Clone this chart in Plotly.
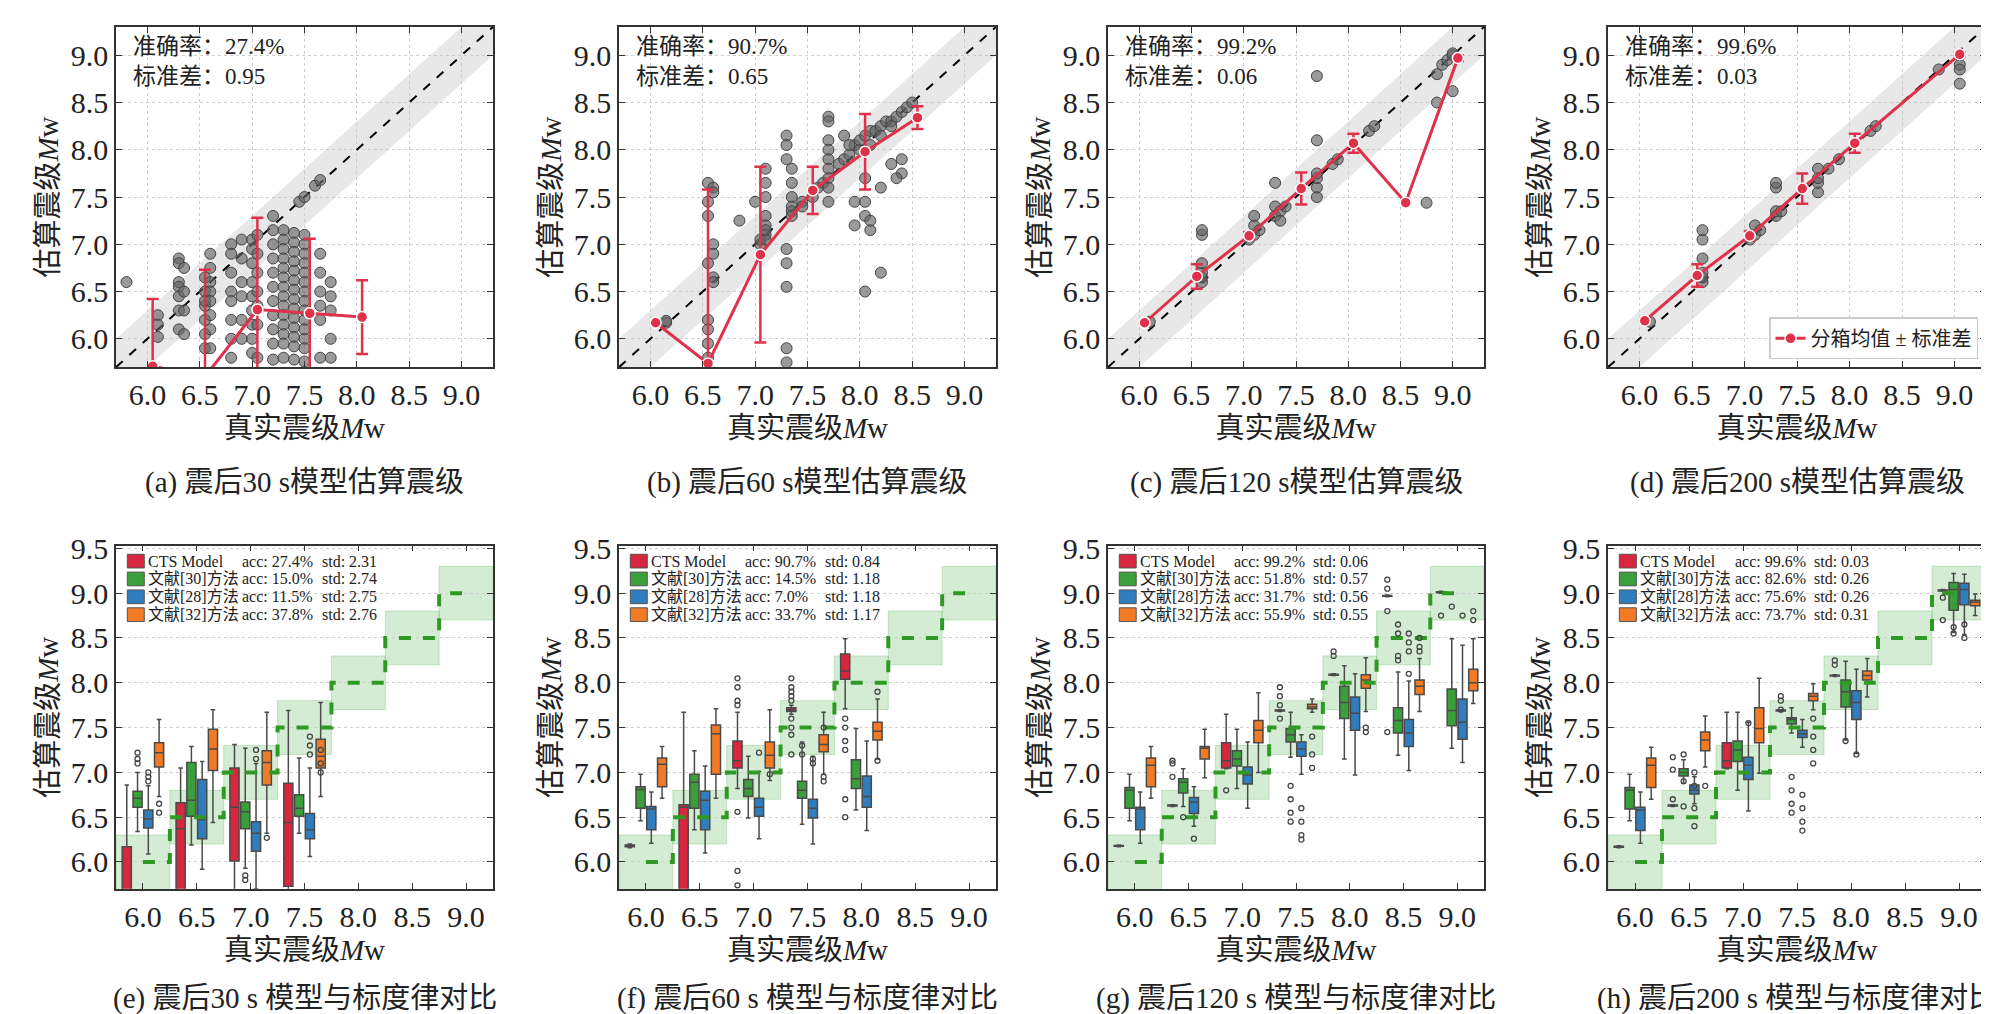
import plotly.graph_objects as go

W, H = 1989, 1014
FONT = "Liberation Serif, Noto Sans CJK SC"

# ---------- 上排：散点 + 分箱均值 ----------
a_x = [5.8, 6.1, 6.1, 6.1, 6.3, 6.3, 6.3, 6.3, 6.3, 6.3, 6.3, 6.35, 6.35, 6.35, 6.35,
       6.55, 6.55, 6.55, 6.55, 6.55, 6.55, 6.55, 6.6, 6.6, 6.6, 6.6, 6.6, 6.6, 6.6, 6.6,
       6.8, 6.8, 6.8, 6.8, 6.8, 6.8, 6.8, 6.8, 6.9, 6.9, 6.9, 6.9, 6.9, 6.9,
       7.0, 7.0, 7.0, 7.0, 7.0, 7.0, 7.0, 7.0, 7.0, 7.05, 7.05, 7.05, 7.05, 7.05, 7.05, 7.05,
       7.2, 7.2, 7.2, 7.2, 7.2, 7.2, 7.2, 7.2, 7.2, 7.2, 7.2,
       7.3, 7.3, 7.3, 7.3, 7.3, 7.3, 7.3, 7.3, 7.3, 7.3, 7.3, 7.3, 7.3, 7.3,
       7.4, 7.4, 7.4, 7.4, 7.4, 7.4, 7.4, 7.4, 7.4, 7.4, 7.4, 7.4, 7.4, 7.4,
       7.5, 7.5, 7.5, 7.5, 7.5, 7.5, 7.5, 7.5, 7.5, 7.5, 7.5, 7.5, 7.5, 7.5,
       7.45, 7.5, 7.6, 7.65, 7.65, 7.65, 7.65, 7.65, 7.65, 7.65,
       7.75, 7.75, 7.75, 7.75, 7.75]
a_y = [6.6, 6.25, 6.15, 6.02, 6.85, 6.8, 6.6, 6.55, 6.45, 6.3, 6.1, 6.75, 6.5, 6.3, 6.05,
       6.65, 6.5, 6.35, 6.2, 6.05, 5.9, 6.4, 6.9, 6.75, 6.6, 6.5, 6.4, 6.25, 6.1, 5.9,
       7.0, 6.9, 6.7, 6.5, 6.4, 6.2, 6.0, 5.8, 7.05, 6.85, 6.6, 6.45, 6.2, 6.0,
       7.05, 6.95, 6.8, 6.6, 6.45, 6.3, 6.15, 6.0, 5.85, 7.1, 6.9, 6.7, 6.5, 6.35, 6.15, 5.8,
       7.3, 7.15, 7.0, 6.85, 6.7, 6.55, 6.4, 6.25, 6.1, 5.95, 5.78,
       7.15, 7.05, 6.95, 6.85, 6.75, 6.65, 6.55, 6.45, 6.35, 6.25, 6.15, 6.05, 5.95, 5.8,
       7.12, 7.02, 6.92, 6.82, 6.72, 6.62, 6.52, 6.42, 6.32, 6.22, 6.12, 6.02, 5.92, 5.78,
       7.1, 7.0, 6.9, 6.8, 6.7, 6.6, 6.5, 6.4, 6.3, 6.2, 6.1, 6.0, 5.9, 5.76,
       7.45, 7.5, 7.62, 7.68, 6.9, 6.7, 6.5, 6.35, 6.2, 5.8,
       6.6, 6.45, 6.3, 6.0, 5.8]

b_x = [6.15, 6.15, 6.55, 6.55, 6.55, 6.55, 6.55, 6.55, 6.55, 6.55, 6.6, 6.6, 6.6, 6.6, 6.6, 6.6,
       6.85, 7.0, 7.05, 7.05, 7.1, 7.1, 7.1, 7.1, 7.1, 7.1, 7.1, 7.1,
       7.3, 7.3, 7.3, 7.3, 7.3, 7.3, 7.3, 7.3, 7.35, 7.35, 7.35, 7.35, 7.35, 7.35, 7.45, 7.45,
       7.55, 7.6, 7.65, 7.7, 7.7, 7.7, 7.7, 7.7, 7.7, 7.7, 7.7, 7.7,
       7.8, 7.85, 7.9, 7.95, 8.0, 8.0, 8.05, 8.1, 8.1, 8.15, 8.2, 8.2, 8.25, 8.3, 8.3, 8.35, 8.4, 8.45, 8.5,
       7.95, 7.95, 8.05, 8.05, 8.05, 8.05, 8.1, 8.1, 8.2, 8.2, 8.4, 8.4, 8.35, 8.3, 7.85, 7.9]
b_y = [6.17, 6.19, 7.65, 7.45, 7.3, 6.8, 6.2, 6.1, 5.95, 5.8, 7.6, 7.55, 7.0, 6.9, 6.65, 6.6,
       7.25, 7.45, 7.0, 7.05, 7.8, 7.65, 7.5, 7.3, 7.2, 7.1, 7.05, 7.15,
       8.15, 8.05, 7.9, 6.95, 6.8, 6.55, 5.9, 5.75, 7.8, 7.65, 7.5, 7.4, 7.35, 7.3, 7.45, 7.4,
       7.5, 7.6, 7.65, 8.35, 8.3, 8.1, 8.0, 7.9, 7.8, 7.7, 7.6, 7.45,
       7.85, 7.9, 7.95, 8.05, 8.0, 8.1, 8.15, 8.05, 8.2, 8.2, 8.25, 8.15, 8.3, 8.3, 8.25, 8.35, 8.4, 8.45, 8.5,
       7.45, 7.2, 7.3, 7.45, 7.7, 6.5, 7.15, 7.25, 6.7, 7.6, 7.75, 7.9, 7.7, 7.85, 8.15, 8.05]

c_x = [6.1, 6.6, 6.6, 6.6, 6.6, 6.6, 6.6, 7.05, 7.1, 7.1, 7.1, 7.15, 7.3, 7.3, 7.3, 7.35, 7.35,
       7.4, 7.7, 7.7, 7.7, 7.7, 7.7, 7.7, 7.85, 7.9, 8.2, 8.25, 8.75, 8.85, 8.85, 8.9, 8.95,
       9.0, 9.0, 9.0]
c_y = [6.18, 6.6, 6.65, 6.7, 6.8, 7.1, 7.15, 7.05, 7.1, 7.2, 7.3, 7.15, 7.3, 7.4, 7.65, 7.35, 7.25,
       7.4, 7.5, 7.6, 7.7, 7.75, 8.1, 8.78, 7.85, 7.9, 8.2, 8.25, 7.44, 8.8, 8.5, 8.9, 8.95,
       9.0, 8.62, 9.02]

d_x = [6.1, 6.6, 6.6, 6.6, 6.6, 6.6, 6.6, 7.05, 7.1, 7.1, 7.15, 7.3, 7.3, 7.3, 7.3, 7.35,
       7.7, 7.7, 7.7, 7.7, 7.8, 7.9, 8.2, 8.25, 8.85, 9.05, 9.05, 9.05, 9.05]
d_y = [6.18, 6.6, 6.65, 6.7, 6.85, 7.05, 7.15, 7.05, 7.1, 7.2, 7.15, 7.3, 7.35, 7.6, 7.65, 7.35,
       7.55, 7.65, 7.7, 7.8, 7.8, 7.9, 8.2, 8.25, 8.85, 9.0, 8.9, 8.85, 8.7]

# 分箱均值与标准差
a_bx, a_bm, a_bs = [6.05, 6.55, 7.05, 7.55, 8.05], [5.71, 5.6, 6.31, 6.27, 6.23], [0.71, 1.13, 0.97, 0.79, 0.39]
b_bx, b_bm, b_bs = [6.05, 6.55, 7.05, 7.55, 8.05, 8.55], [6.17, 5.74, 6.89, 7.57, 7.98, 8.34], [0.0, 1.84, 0.93, 0.25, 0.40, 0.12]
c_bx, c_bm, c_bs = [6.05, 6.55, 7.05, 7.55, 8.05, 8.55, 9.05], [6.17, 6.66, 7.09, 7.59, 8.07, 7.44, 8.97], [0.0, 0.13, 0.04, 0.17, 0.1, 0.0, 0.03]
d_bx, d_bm, d_bs = [6.05, 6.55, 7.05, 7.55, 8.05, 9.05], [6.19, 6.67, 7.09, 7.59, 8.07, 9.01], [0.0, 0.12, 0.05, 0.16, 0.1, 0.02]

top_acc = ["27.4%", "90.7%", "99.2%", "99.6%"]
top_std = ["0.95", "0.65", "0.06", "0.03"]
top_caps = ["(a) 震后30 s模型估算震级", "(b) 震后60 s模型估算震级",
            "(c) 震后120 s模型估算震级", "(d) 震后200 s模型估算震级"]

# ---------- 下排：箱线图 (lowerfence, q1, median, q3, upperfence) ----------
bin_centers = [6.0, 6.5, 7.0, 7.5, 8.0, 8.5, 9.0]
methods = ["CTS Model", "文献[30]方法", "文献[28]方法", "文献[32]方法"]
m_colors = ["#d7263d", "#3a9e3a", "#2f7dbd", "#f07a26"]

e_cts = [(5.0, 5.3, 5.6, 6.17, 6.86), (4.8, 5.4, 6.37, 6.66, 7.05), (5.5, 6.01, 6.61, 7.05, 7.31), (5.6, 5.73, 6.44, 6.88, 7.69), None, None, None]
e_l30 = [(6.34, 6.61, 6.71, 6.79, 7.0), (6.19, 6.51, 6.69, 7.11, 7.29), (5.93, 6.37, 6.56, 6.67, 7.27), (6.32, 6.51, 6.6, 6.75, 7.16), None, None, None]
e_l28 = [(6.09, 6.38, 6.48, 6.58, 6.85), (5.92, 6.26, 6.47, 6.92, 7.12), (5.7, 6.12, 6.32, 6.45, 7.1), (6.06, 6.26, 6.36, 6.54, 7.05), None, None, None]
e_l32 = [(6.73, 7.06, 7.22, 7.33, 7.59), (6.44, 7.02, 7.26, 7.48, 7.7), (6.32, 6.86, 7.11, 7.24, 7.67), (6.73, 7.05, 7.18, 7.37, 7.78), None, None, None]

f_cts = [(6.16, 6.17, 6.18, 6.19, 6.2), (4.8, 5.2, 6.61, 6.64, 7.67), (6.82, 7.05, 7.13, 7.35, 7.67), (7.65, 7.68, 7.7, 7.72, 7.75), (7.71, 8.04, 8.13, 8.32, 8.49), None, None]
f_l30 = [(6.46, 6.6, 6.81, 6.84, 6.98), (6.36, 6.6, 6.89, 6.98, 7.24), (6.49, 6.73, 6.82, 6.92, 7.18), (6.42, 6.71, 6.8, 6.9, 7.34), (6.58, 6.82, 6.93, 7.14, 7.49), None, None]
f_l28 = [(6.21, 6.36, 6.59, 6.62, 6.78), (6.1, 6.36, 6.69, 6.79, 7.07), (6.26, 6.51, 6.61, 6.71, 7.01), (6.2, 6.49, 6.6, 6.7, 7.18), (6.35, 6.61, 6.73, 6.96, 7.35), None, None]
f_l32 = [(6.71, 6.84, 7.09, 7.16, 7.29), (6.71, 6.98, 7.43, 7.53, 7.71), (6.91, 7.05, 7.19, 7.34, 7.7), (6.98, 7.23, 7.31, 7.42, 7.67), (7.15, 7.36, 7.46, 7.56, 7.82), None, None]

g_cts = [(6.17, 6.175, 6.18, 6.185, 6.19), (6.62, 6.625, 6.63, 6.635, 6.64), (7.04, 7.05, 7.13, 7.33, 7.65), (7.68, 7.685, 7.69, 7.695, 7.7), (8.08, 8.085, 8.09, 8.095, 8.1), (8.96, 8.965, 8.97, 8.975, 8.98), (9.0, 9.005, 9.01, 9.015, 9.02)]
g_l30 = [(6.46, 6.6, 6.8, 6.83, 6.98), (6.62, 6.77, 6.89, 6.93, 7.04), (6.82, 7.07, 7.15, 7.24, 7.48), (7.17, 7.34, 7.42, 7.49, 7.67), (7.15, 7.6, 7.78, 7.96, 8.19), (7.19, 7.44, 7.58, 7.72, 8.12), (7.27, 7.52, 7.69, 7.93, 8.49)]
g_l28 = [(6.21, 6.36, 6.59, 6.61, 6.78), (6.4, 6.54, 6.67, 6.72, 6.84), (6.6, 6.87, 6.97, 7.06, 7.34), (6.98, 7.18, 7.26, 7.34, 7.42), (6.97, 7.47, 7.66, 7.84, 8.1), (7.02, 7.29, 7.44, 7.59, 8.02), (7.11, 7.37, 7.56, 7.82, 8.42)]
g_l32 = [(6.71, 6.84, 7.08, 7.16, 7.29), (6.94, 7.15, 7.27, 7.29, 7.48), (7.0, 7.33, 7.47, 7.58, 7.89), (7.67, 7.71, 7.73, 7.76, 7.82), (7.68, 7.94, 8.03, 8.09, 8.28), (7.68, 7.87, 7.96, 8.03, 8.27), (7.77, 7.91, 8.0, 8.15, 8.49)]

h_cts = [(6.16, 6.165, 6.17, 6.175, 6.18), (6.62, 6.625, 6.63, 6.635, 6.64), (7.04, 7.05, 7.13, 7.33, 7.67), (7.68, 7.685, 7.69, 7.695, 7.7), (8.07, 8.075, 8.08, 8.085, 8.09), None, (9.02, 9.025, 9.03, 9.035, 9.04)]
h_l30 = [(6.46, 6.59, 6.8, 6.83, 6.98), (6.88, 6.96, 7.0, 7.04, 7.14), (6.8, 7.12, 7.25, 7.35, 7.67), (7.44, 7.54, 7.59, 7.61, 7.72), (7.36, 7.73, 7.9, 8.03, 8.24), None, (8.56, 8.81, 9.04, 9.12, 9.22)]
h_l28 = [(6.21, 6.35, 6.58, 6.61, 6.78), (6.65, 6.76, 6.8, 6.86, 6.95), (6.57, 6.92, 7.08, 7.17, 7.56), (7.28, 7.39, 7.43, 7.47, 7.59), (7.21, 7.59, 7.78, 7.91, 8.15), None, (8.54, 8.87, 9.04, 9.11, 9.21)]
h_l32 = [(6.7, 6.83, 7.08, 7.16, 7.28), (7.06, 7.24, 7.36, 7.45, 7.63), (6.99, 7.33, 7.49, 7.72, 8.05), (7.7, 7.8, 7.85, 7.88, 7.99), (7.84, 8.03, 8.08, 8.13, 8.27), None, (8.75, 8.86, 8.9, 8.92, 8.99)]

e_out_x = [5.95, 5.95, 5.95, 6.05, 6.05, 6.05, 6.15, 6.15, 7.05, 7.05, 6.95, 6.95, 7.15, 7.55, 7.55, 7.55, 7.65, 7.65, 7.65]
e_out_y = [7.22, 7.15, 7.1, 7.0, 6.95, 6.9, 6.65, 6.55, 7.25, 7.15, 5.85, 5.8, 6.27, 7.4, 7.3, 7.2, 7.25, 7.1, 7.0]
f_out_x = [6.85, 6.85, 6.85, 6.85, 6.85, 6.85, 6.85, 7.05, 7.15, 7.35, 7.35, 7.35, 7.35, 7.35, 7.35, 7.35, 7.35, 7.35,
           7.45, 7.45, 7.55, 7.55, 7.65, 7.65, 7.65, 7.85, 7.85, 7.85, 7.85, 7.85, 7.85, 8.15, 8.15]
f_out_y = [8.05, 7.95, 7.8, 7.75, 6.56, 5.9, 5.74, 7.22, 6.98, 8.05, 7.95, 7.9, 7.85, 7.8, 7.6, 7.5, 7.42, 7.2,
           7.3, 7.2, 7.15, 7.1, 7.5, 6.95, 6.9, 7.6, 7.5, 7.35, 7.25, 6.7, 6.5, 7.9, 7.13]
g_out_x = [6.35, 6.35, 6.35, 6.45, 6.55, 6.85, 7.35, 7.35, 7.35, 7.35, 7.45, 7.45, 7.45, 7.45, 7.55, 7.55, 7.55, 7.55,
           7.65, 7.65, 7.65, 7.85, 7.85, 8.15, 8.15, 8.35, 8.35, 8.35, 8.35, 8.45, 8.45, 8.45, 8.45, 8.55, 8.55, 8.55, 8.55,
           8.65, 8.65, 8.65, 8.85, 8.95, 9.05, 9.15, 9.15]
g_out_y = [7.13, 7.1, 6.95, 6.5, 6.26, 6.8, 7.95, 7.85, 7.75, 7.6, 6.85, 6.7, 6.55, 6.45, 6.6, 6.45, 6.3, 6.25,
           7.4, 7.2, 7.05, 8.35, 8.3, 7.5, 7.45, 9.15, 9.05, 8.8, 7.45, 8.65, 8.55, 8.3, 8.25, 8.55, 8.45, 8.35, 8.1,
           8.5, 8.4, 8.35, 8.75, 8.85, 8.75, 8.8, 8.7]
h_out_x = [6.35, 6.35, 6.35, 6.45, 6.45, 6.45, 6.55, 6.55, 6.55, 6.55, 6.65, 7.05, 7.35, 7.35, 7.35, 7.45, 7.45, 7.45, 7.45,
           7.55, 7.55, 7.55, 7.55, 7.65, 7.65, 7.65, 7.65, 7.85, 7.85, 7.95, 8.05, 8.85, 8.85, 8.95, 8.95, 9.05, 9.05]
h_out_y = [7.17, 7.03, 6.7, 7.2, 6.9, 6.62, 7.0, 6.85, 6.6, 6.4, 6.85, 7.55, 7.85, 7.8, 7.7, 6.95, 6.8, 6.65, 6.55,
           6.75, 6.6, 6.45, 6.35, 7.6, 7.4, 7.25, 7.1, 8.25, 8.2, 7.35, 7.2, 8.95, 8.7, 8.62, 8.55, 8.65, 8.5]

bot_stats = [
    ("acc: 27.4%", "acc: 15.0%", "acc: 11.5%", "acc: 37.8%"), ("std: 2.31", "std: 2.74", "std: 2.75", "std: 2.76"),
    ("acc: 90.7%", "acc: 14.5%", "acc: 7.0%", "acc: 33.7%"), ("std: 0.84", "std: 1.18", "std: 1.18", "std: 1.17"),
    ("acc: 99.2%", "acc: 51.8%", "acc: 31.7%", "acc: 55.9%"), ("std: 0.06", "std: 0.57", "std: 0.56", "std: 0.55"),
    ("acc: 99.6%", "acc: 82.6%", "acc: 75.6%", "acc: 73.7%"), ("std: 0.03", "std: 0.26", "std: 0.26", "std: 0.31"),
]
bot_caps = ["(e) 震后30 s 模型与标度律对比", "(f) 震后60 s 模型与标度律对比",
            "(g) 震后120 s 模型与标度律对比", "(h) 震后200 s 模型与标度律对比"]

# ---------- 布局 ----------
cols_px = [(108, 485), (611, 988), (1100, 1476), (1600, 1978)]
top_px = (5, 350)
bot_px = (531, 879)
band = 0.3
offsets = [-0.15, -0.05, 0.05, 0.15]

fig = go.Figure()
layout = {}
annotations = []
shapes = []


def dom(p0, p1, total):
    return [p0 / total, p1 / total]


def axis_common(**kw):
    d = dict(showline=True, linecolor="#333", linewidth=1.5, mirror="ticks", ticks="inside",
             ticklen=6, tickcolor="#333", showgrid=True, gridcolor="#cfcfcf", griddash="dot",
             gridwidth=1, zeroline=False, tickfont=dict(family=FONT, size=30, color="#222"),
             title_font=dict(family=FONT, size=29, color="#222"))
    d.update(kw)
    return d


top_data = [(a_x, a_y, a_bx, a_bm, a_bs), (b_x, b_y, b_bx, b_bm, b_bs),
            (c_x, c_y, c_bx, c_bm, c_bs), (d_x, d_y, d_bx, d_bm, d_bs)]

for i, (px, py, bx, bm, bs) in enumerate(top_data):
    n = i + 1
    xa, ya = ("x" if n == 1 else f"x{n}"), ("y" if n == 1 else f"y{n}")
    lo, hi = 5.7, 9.3
    fig.add_trace(go.Scatter(x=[lo, hi, hi, lo], y=[lo + band, hi + band, hi - band, lo - band],
                             fill="toself", fillcolor="rgba(190,190,190,0.35)", line=dict(width=0),
                             mode="lines", showlegend=False, hoverinfo="skip", xaxis=xa, yaxis=ya))
    fig.add_trace(go.Scatter(x=[lo, hi], y=[lo, hi], mode="lines", line=dict(color="black", dash="dash", width=2),
                             showlegend=False, xaxis=xa, yaxis=ya))
    fig.add_trace(go.Scatter(x=px, y=py, mode="markers", showlegend=False, xaxis=xa, yaxis=ya,
                             marker=dict(size=11, color="rgba(100,100,100,0.65)", line=dict(color="#444", width=1))))
    fig.add_trace(go.Scatter(x=bx, y=bm, mode="lines+markers", name="分箱均值 ± 标准差", showlegend=(n == 4),
                             xaxis=xa, yaxis=ya, line=dict(color="#e0314b", width=3),
                             marker=dict(size=11, color="#e0314b", line=dict(color="white", width=1.5)),
                             error_y=dict(type="data", array=bs, color="#e0314b", thickness=2.5, width=6)))
    layout[f"xaxis{'' if n == 1 else n}"] = axis_common(
        domain=dom(*cols_px[i], W), range=[lo, hi], tickvals=[6.0, 6.5, 7.0, 7.5, 8.0, 8.5, 9.0],
        ticktext=["6.0", "6.5", "7.0", "7.5", "8.0", "8.5", "9.0"], anchor=ya,
        title=dict(text="真实震级<i>M</i>w", standoff=8))
    layout[f"yaxis{'' if n == 1 else n}"] = axis_common(
        domain=[1 - top_px[1] / H, 1 - top_px[0] / H], range=[lo, hi],
        tickvals=[6.0, 6.5, 7.0, 7.5, 8.0, 8.5, 9.0], ticktext=["6.0", "6.5", "7.0", "7.5", "8.0", "8.5", "9.0"],
        anchor=xa, title=dict(text="估算震级<i>M</i>w", standoff=4))
    annotations.append(dict(xref=f"{xa} domain", yref=f"{ya} domain", x=0.04, y=0.985, xanchor="left",
                            yanchor="top", align="left", showarrow=False,
                            text=f"准确率：{top_acc[i]}<br>标准差：{top_std[i]}",
                            font=dict(family=FONT, size=23, color="#222")))
    annotations.append(dict(xref="paper", yref="paper", x=(cols_px[i][0] + cols_px[i][1]) / 2 / W,
                            y=1 - 467 / H, xanchor="center", yanchor="middle", showarrow=False, text=top_caps[i],
                            font=dict(family=FONT, size=29, color="#222")))

bot_data = [((e_cts, e_l30, e_l28, e_l32), e_out_x, e_out_y), ((f_cts, f_l30, f_l28, f_l32), f_out_x, f_out_y),
            ((g_cts, g_l30, g_l28, g_l32), g_out_x, g_out_y), ((h_cts, h_l30, h_l28, h_l32), h_out_x, h_out_y)]

for i, (sets, ox, oy) in enumerate(bot_data):
    n = i + 5
    xa, ya = f"x{n}", f"y{n}"
    for c in bin_centers:
        shapes.append(dict(type="rect", xref=xa, yref=ya, x0=c - 0.25, x1=c + 0.25, y0=c - band, y1=c + band,
                           fillcolor="rgba(60,170,60,0.22)", line=dict(color="rgba(60,170,60,0.25)", width=1),
                           layer="below"))
    fig.add_trace(go.Scatter(x=bin_centers, y=bin_centers, mode="lines", line_shape="hvh", showlegend=False,
                             line=dict(color="#2e9a24", width=4, dash="dash"), xaxis=xa, yaxis=ya))
    for k, stats in enumerate(sets):
        xs, lf, q1, md, q3, uf = [], [], [], [], [], []
        for c, s in zip(bin_centers, stats):
            if s is None:
                continue
            xs.append(c + offsets[k])
            lf.append(s[0]); q1.append(s[1]); md.append(s[2]); q3.append(s[3]); uf.append(s[4])
        fig.add_trace(go.Box(x=xs, lowerfence=lf, q1=q1, median=md, q3=q3, upperfence=uf, width=0.085,
                             fillcolor=m_colors[k], line=dict(color="#4a4a4a", width=1.5), whiskerwidth=0.5,
                             boxpoints=False, showlegend=False, xaxis=xa, yaxis=ya))
    fig.add_trace(go.Scatter(x=ox, y=oy, mode="markers", showlegend=False, xaxis=xa, yaxis=ya,
                             marker=dict(size=5, color="rgba(0,0,0,0)", line=dict(color="#444", width=1.3))))
    ticks = [6.0, 6.5, 7.0, 7.5, 8.0, 8.5, 9.0]
    layout[f"xaxis{n}"] = axis_common(
        domain=dom(*cols_px[i], W), range=[5.75, 9.25], tickvals=ticks, ticktext=[f"{t:.1f}" for t in ticks],
        anchor=ya, showgrid=False, title=dict(text="真实震级<i>M</i>w", standoff=8))
    yt = [6.0, 6.5, 7.0, 7.5, 8.0, 8.5, 9.0, 9.5]
    layout[f"yaxis{n}"] = axis_common(
        domain=[1 - bot_px[1] / H, 1 - bot_px[0] / H], range=[5.7, 9.53], tickvals=yt,
        ticktext=[f"{t:.1f}" for t in yt], anchor=xa, title=dict(text="估算震级<i>M</i>w", standoff=4))
    # 图例（手工绘制）
    accs, stds = bot_stats[2 * i], bot_stats[2 * i + 1]
    for k in range(4):
        yy = 0.955 - k * 0.052
        shapes.append(dict(type="rect", xref=f"{xa} domain", yref=f"{ya} domain", x0=0.03, x1=0.075,
                           y0=yy - 0.02, y1=yy + 0.02, fillcolor=m_colors[k], line=dict(color="#555", width=1)))
        annotations.append(dict(xref=f"{xa} domain", yref=f"{ya} domain", x=0.08, y=yy, xanchor="left",
                                yanchor="middle", showarrow=False, text=methods[k],
                                font=dict(family=FONT, size=16, color="#222")))
        annotations.append(dict(xref=f"{xa} domain", yref=f"{ya} domain", x=0.33, y=yy, xanchor="left",
                                yanchor="middle", showarrow=False, text=accs[k],
                                font=dict(family=FONT, size=16, color="#222")))
        annotations.append(dict(xref=f"{xa} domain", yref=f"{ya} domain", x=0.54, y=yy, xanchor="left",
                                yanchor="middle", showarrow=False, text=stds[k],
                                font=dict(family=FONT, size=16, color="#222")))
    annotations.append(dict(xref="paper", yref="paper", x=(cols_px[i][0] + cols_px[i][1]) / 2 / W,
                            y=1 - 990 / H, xanchor="center", yanchor="middle", showarrow=False, text=bot_caps[i],
                            font=dict(family=FONT, size=29, color="#222")))

fig.update_layout(
    width=W, height=H, margin=dict(l=0, r=0, t=0, b=0), plot_bgcolor="white", paper_bgcolor="white",
    font=dict(family=FONT, color="#222"), annotations=annotations, shapes=shapes, boxmode="overlay",
    legend=dict(x=(1978 - 8) / W, y=1 - (350 - 8) / H, xref="paper", yref="paper", xanchor="right",
                yanchor="bottom", bgcolor="rgba(255,255,255,0.9)", bordercolor="#ccc", borderwidth=1.5,
                font=dict(family=FONT, size=20)),
    **layout)

fig.write_html("out.html")
